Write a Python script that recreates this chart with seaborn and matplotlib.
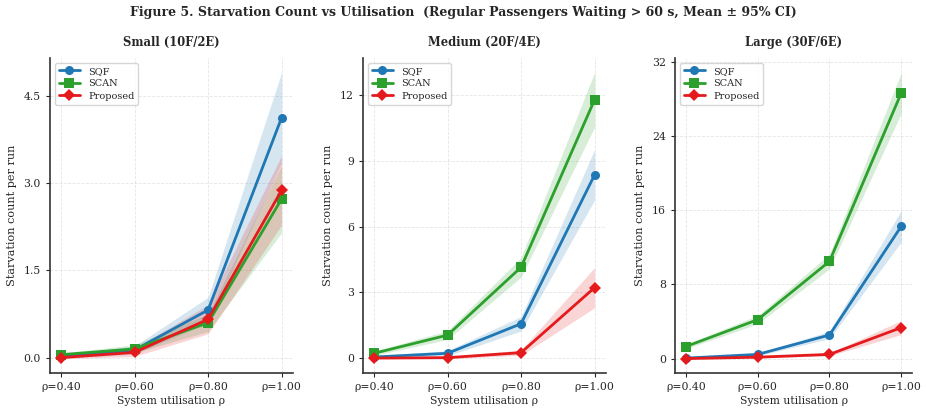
import matplotlib
matplotlib.use("Agg")
import matplotlib.pyplot as plt
import seaborn as sns
import pandas as pd
import numpy as np

sns.set_style("ticks")
plt.rcParams['font.family'] = ['DejaVu Serif']

rho = [0.40, 0.60, 0.80, 1.00]
rho_labels = ["ρ=0.40", "ρ=0.60", "ρ=0.80", "ρ=1.00"]
methods = ["SQF", "SCAN", "Proposed"]
colors = {"SQF": "#1f77b4", "SCAN": "#2ca02c", "Proposed": "#e41a1c"}
markers = {"SQF": "o", "SCAN": "s", "Proposed": "D"}

titles = ["Small (10F/2E)", "Medium (20F/4E)", "Large (30F/6E)"]

# means
small_sqf = [0.02, 0.13, 0.82, 4.13]
small_scan = [0.05, 0.15, 0.60, 2.73]
small_prop = [0.00, 0.09, 0.66, 2.88]
med_sqf = [0.05, 0.22, 1.57, 8.37]
med_scan = [0.22, 1.05, 4.15, 11.80]
med_prop = [0.00, 0.02, 0.25, 3.22]
large_sqf = [0.05, 0.45, 2.55, 14.30]
large_scan = [1.30, 4.20, 10.50, 28.70]
large_prop = [0.00, 0.15, 0.45, 3.35]

# 95% CI half-widths
small_sqf_ci = [0.03, 0.07, 0.22, 0.78]
small_scan_ci = [0.03, 0.07, 0.15, 0.58]
small_prop_ci = [0.02, 0.07, 0.25, 0.60]
med_sqf_ci = [0.05, 0.12, 0.33, 1.15]
med_scan_ci = [0.10, 0.20, 0.45, 1.25]
med_prop_ci = [0.02, 0.05, 0.12, 0.92]
large_sqf_ci = [0.05, 0.15, 0.40, 1.70]
large_scan_ci = [0.25, 0.45, 0.80, 2.20]
large_prop_ci = [0.02, 0.08, 0.15, 0.75]

panels = [
    {"SQF": (small_sqf, small_sqf_ci), "SCAN": (small_scan, small_scan_ci), "Proposed": (small_prop, small_prop_ci)},
    {"SQF": (med_sqf, med_sqf_ci), "SCAN": (med_scan, med_scan_ci), "Proposed": (med_prop, med_prop_ci)},
    {"SQF": (large_sqf, large_sqf_ci), "SCAN": (large_scan, large_scan_ci), "Proposed": (large_prop, large_prop_ci)},
]
yticks = [[0, 1.5, 3.0, 4.5], [0, 3, 6, 9, 12], [0, 8, 16, 24, 32]]
ytick_labels = [["0.0", "1.5", "3.0", "4.5"], ["0", "3", "6", "9", "12"], ["0", "8", "16", "24", "32"]]

fig = plt.figure(figsize=(9.26, 4.15), dpi=100)
rects = [[0.054, 0.101, 0.262, 0.759],
         [0.392, 0.101, 0.262, 0.759],
         [0.729, 0.101, 0.256, 0.759]]
axes = [fig.add_axes(r) for r in rects]

for ax, panel, title, yt, ytl in zip(axes, panels, titles, yticks, ytick_labels):
    for m in methods:
        mean, ci = panel[m]
        mean = np.array(mean); ci = np.array(ci)
        df = pd.DataFrame({"rho": rho, "val": mean})
        sns.lineplot(data=df, x="rho", y="val", ax=ax, color=colors[m], marker=markers[m],
                     markersize=6.5, linewidth=2.0, markeredgewidth=0, label=m)
        ax.fill_between(rho, mean - ci, mean + ci, color=colors[m], alpha=0.18, linewidth=0)
    ax.set_title(title, fontsize=8.3, fontweight="bold", pad=9)
    ax.set_xticks(rho)
    ax.set_xticklabels(rho_labels, fontsize=7.8)
    ax.set_yticks(yt)
    ax.set_yticklabels(ytl, fontsize=7.8)
    ax.set_xlabel("System utilisation ρ", fontsize=7.8, labelpad=3)
    ax.set_ylabel("Starvation count per run", fontsize=8.1, labelpad=5)
    ax.tick_params(length=3, width=0.8)
    ax.grid(True, linestyle="--", linewidth=0.6, alpha=0.5)
    sns.despine(ax=ax)
    for s in ["left", "bottom"]:
        ax.spines[s].set_linewidth(1.2)
        ax.spines[s].set_color("#333333")
    ax.legend(loc="upper left", fontsize=7, frameon=True, handlelength=2.2, borderpad=0.4,
              labelspacing=0.35)

fig.suptitle("Figure 5. Starvation Count vs Utilisation  (Regular Passengers Waiting > 60 s, Mean ± 95% CI)",
             fontsize=9.0, fontweight="bold", y=0.985)
fig.savefig("out.png", dpi=100)
